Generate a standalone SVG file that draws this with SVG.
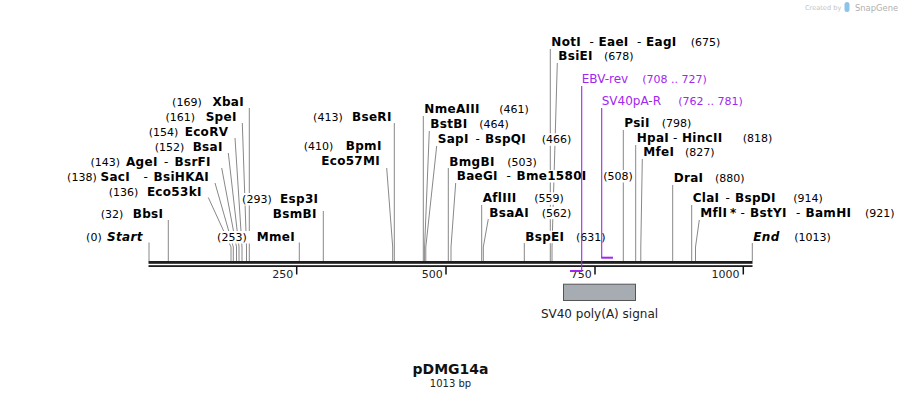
<svg xmlns="http://www.w3.org/2000/svg" width="902" height="400" viewBox="0 0 902 400">
<style>
text{font-family:"DejaVu Sans",Verdana,sans-serif;fill:#000}
.n{font-size:12px;font-weight:bold;letter-spacing:0.3px}
.i{font-style:italic}
.h{font-size:12px}
.p{font-size:11px}
.e{text-anchor:end}
.bg{fill:#fff}
.cut{stroke:#888;stroke-width:1;fill:none}
.prt{fill:#a126f0;font-size:12px}
.prn{fill:#a126f0;font-size:11px}
.prl{stroke:#a126f0;stroke-width:1.1;fill:none}
.prb{fill:#a126f0}
.tk{stroke:#111;stroke-width:1.5}
.tkl{font-size:11px;fill:#222;text-anchor:end}
</style>
<rect width="902" height="400" fill="#fff"/>
<g id="logo">
<text x="805" y="10" style="font-size:6.6px;fill:#c4c4c4">Created by</text>
<rect x="844.5" y="2" width="5" height="10" rx="2.5" fill="#8cc4e8"/>
<text x="855" y="10.5" style="font-size:8.4px;fill:#b0b0b0">SnapGene</text>
</g>
<g id="backbone">
<rect x="148.5" y="261" width="604" height="2.8" fill="#1e1e1e"/>
<rect x="148.5" y="265.2" width="604" height="1.8" fill="#1e1e1e"/>
</g>
<g id="ticks">
<line class="tk" x1="296.7" y1="266" x2="296.7" y2="274.5"/><text class="tkl" x="293.3" y="277.5">250</text>
<line class="tk" x1="446" y1="266" x2="446" y2="274.5"/><text class="tkl" x="442.8" y="277.5">500</text>
<line class="tk" x1="595" y1="266" x2="595" y2="274.5"/><text class="tkl" x="591.7" y="277.5">750</text>
<line class="tk" x1="743.3" y1="266" x2="743.3" y2="274.5"/><text class="tkl" x="739.5" y="277.5">1000</text>
</g>
<g id="connectors">
<path class="cut" d="M249.3,108 V261"/>
<path class="cut" d="M242.3,123 L246.5,247 V261"/>
<path class="cut" d="M235,138 L242,247 V261"/>
<path class="cut" d="M228.3,153 L239,247 V261"/>
<path class="cut" d="M221.7,168 L236.5,247 V261"/>
<path class="cut" d="M215,183 L233.3,247 V261"/>
<path class="cut" d="M208.3,197.5 L231,247 V261"/>
<path class="cut" d="M168.3,220 V261"/>
<path class="cut" d="M149,242.5 V261"/>
<path class="cut" d="M299.3,242.5 V261"/>
<path class="cut" d="M323.3,211 V261"/>
<path class="cut" d="M386.7,168 L392.7,247 V261"/>
<path class="cut" d="M394.3,123 V261"/>
<path class="cut" d="M423.3,116 V261"/>
<path class="cut" d="M429.3,131 L424.6,247 V261"/>
<path class="cut" d="M436.7,146 L425.8,247 V261"/>
<path class="cut" d="M448.3,168 V261"/>
<path class="cut" d="M455.7,183 L451,247 V261"/>
<path class="cut" d="M481.7,205 V261"/>
<path class="cut" d="M488.3,219 L483.3,247 V261"/>
<path class="cut" d="M524.3,243 V261"/>
<path class="cut" d="M550.3,49 V261"/>
<path class="cut" d="M557.3,63 L552,247 V261"/>
<path class="cut" d="M623.3,130 V261"/>
<path class="cut" d="M635.7,145 V261"/>
<path class="cut" d="M642.3,159 L640.8,247 V261"/>
<path class="cut" d="M672.7,185 V261"/>
<path class="cut" d="M691.7,205 V261"/>
<path class="cut" d="M699.3,220 L695.5,247 V261"/>
<path class="cut" d="M752.3,243 V261"/>
</g>
<g id="site-XbaI"><rect class="bg" x="172" y="96" width="73.5" height="12.5"/><text class="p e" x="201.7" y="106">(169)</text><text class="n e" x="244" y="106">XbaI</text></g>
<g id="site-SpeI"><rect class="bg" x="164" y="111" width="74.2" height="12.5"/><text class="p e" x="195" y="121">(161)</text><text class="n e" x="236.7" y="121">SpeI</text></g>
<g id="site-EcoRV"><rect class="bg" x="147" y="126" width="82.8" height="12.5"/><text class="p e" x="178.3" y="136">(154)</text><text class="n e" x="228.3" y="136">EcoRV</text></g>
<g id="site-BsaI"><rect class="bg" x="153" y="141" width="71.2" height="12.5"/><text class="p e" x="184.3" y="151">(152)</text><text class="n e" x="222.7" y="151">BsaI</text></g>
<g id="site-AgeI"><rect class="bg" x="89" y="156" width="129.2" height="12.5"/><text class="p e" x="120" y="166">(143)</text><text class="n e" x="157.7" y="166">AgeI</text><text class="h" x="164" y="166">-</text><text class="n" x="174.5" y="166">BsrFI</text></g>
<g id="site-SacI"><rect class="bg" x="65.5" y="171" width="144.5" height="12.5"/><text class="p e" x="96.7" y="181">(138)</text><text class="n e" x="130" y="181">SacI</text><text class="h" x="143.5" y="181">-</text><text class="n" x="153.5" y="181">BsiHKAI</text></g>
<g id="site-Eco53kI"><rect class="bg" x="107" y="186" width="96.2" height="12.5"/><text class="p e" x="138.3" y="196">(136)</text><text class="n e" x="201.7" y="196">Eco53kI</text></g>
<g id="site-BbsI"><rect class="bg" x="99" y="208" width="65.8" height="12.5"/><text class="p e" x="123.3" y="218">(32)</text><text class="n e" x="163.3" y="218">BbsI</text></g>
<g id="site-Start"><rect class="bg" x="84.5" y="231" width="59.7" height="12.5"/><text class="p e" x="101.7" y="241">(0)</text><text class="n i e" x="142.7" y="241">Start</text></g>
<g id="site-MmeI"><rect class="bg" x="216" y="231" width="80.5" height="12.5"/><text class="p e" x="246.7" y="241">(253)</text><text class="n e" x="295" y="241">MmeI</text></g>
<g id="site-Esp3I"><rect class="bg" x="240.5" y="193" width="79.3" height="12.5"/><rect class="bg" x="272.5" y="208" width="45.7" height="12.5"/><text class="p e" x="271.7" y="203">(293)</text><text class="n e" x="318.3" y="203">Esp3I</text><text class="n e" x="316.7" y="218">BsmBI</text></g>
<g id="site-BseRI"><rect class="bg" x="311.5" y="111" width="81.7" height="12.5"/><text class="p e" x="342.7" y="121">(413)</text><text class="n e" x="391.7" y="121">BseRI</text></g>
<g id="site-BpmI"><rect class="bg" x="302" y="140" width="81.2" height="12.5"/><rect class="bg" x="321.8" y="155" width="59.7" height="12.5"/><text class="p e" x="333.3" y="150">(410)</text><text class="n e" x="381.7" y="150">BpmI</text><text class="n e" x="380" y="165">Eco57MI</text></g>
<g id="site-NmeAIII"><rect class="bg" x="423.8" y="103.3" width="106.2" height="12.5"/><text class="n" x="424.3" y="113.3">NmeAIII</text><text class="p" x="499.3" y="113.3">(461)</text></g>
<g id="site-BstBI"><rect class="bg" x="429.8" y="118.3" width="80.7" height="12.5"/><text class="n" x="430.3" y="128.3">BstBI</text><text class="p" x="479.3" y="128.3">(464)</text></g>
<g id="site-SapI"><rect class="bg" x="437.2" y="133.3" width="135.8" height="12.5"/><text class="n" x="437.7" y="143.3">SapI</text><text class="h" x="475.5" y="143.3">-</text><text class="n" x="485" y="143.3">BspQI</text><text class="p" x="541.7" y="143.3">(466)</text></g>
<g id="site-BmgBI"><rect class="bg" x="448.8" y="155.5" width="89.7" height="12.5"/><text class="n" x="449.3" y="165.5">BmgBI</text><text class="p" x="507.3" y="165.5">(503)</text></g>
<g id="site-BaeGI"><rect class="bg" x="456.2" y="170" width="178.3" height="12.5"/><text class="n" x="456.7" y="180">BaeGI</text><text class="h" x="506.5" y="180">-</text><text class="n" x="516.5" y="180">Bme1580I</text><text class="p" x="603.3" y="180">(508)</text></g>
<g id="site-AflIII"><rect class="bg" x="482.2" y="192.3" width="83.3" height="12.5"/><text class="n" x="482.7" y="202.3">AflIII</text><text class="p" x="534.3" y="202.3">(559)</text></g>
<g id="site-BsaAI"><rect class="bg" x="488.8" y="206.7" width="84.2" height="12.5"/><text class="n" x="489.3" y="216.7">BsaAI</text><text class="p" x="541.7" y="216.7">(562)</text></g>
<g id="site-BspEI"><rect class="bg" x="524.8" y="230.7" width="82.2" height="12.5"/><text class="n" x="525.3" y="240.7">BspEI</text><text class="p" x="576" y="240.7">(631)</text></g>
<g id="site-NotI"><rect class="bg" x="550.8" y="36" width="171.2" height="12.5"/><text class="n" x="551.3" y="46">NotI</text><text class="h" x="589.5" y="46">-</text><text class="n" x="598.5" y="46">EaeI</text><text class="h" x="637" y="46">-</text><text class="n" x="646" y="46">EagI</text><text class="p" x="690.7" y="46">(675)</text></g>
<g id="site-BsiEI"><rect class="bg" x="557.8" y="50" width="77.2" height="12.5"/><text class="n" x="558.3" y="60">BsiEI</text><text class="p" x="604" y="60">(678)</text></g>
<g id="site-PsiI"><rect class="bg" x="623.8" y="117.3" width="69.2" height="12.5"/><text class="n" x="624.3" y="127.3">PsiI</text><text class="p" x="661.7" y="127.3">(798)</text></g>
<g id="site-HpaI"><rect class="bg" x="636.2" y="132.3" width="137.8" height="12.5"/><text class="n" x="636.7" y="142.3">HpaI</text><text class="h" x="673" y="142.3">-</text><text class="n" x="682" y="142.3">HincII</text><text class="p" x="742.7" y="142.3">(818)</text></g>
<g id="site-MfeI"><rect class="bg" x="642.8" y="146" width="73.2" height="12.5"/><text class="n" x="643.3" y="156">MfeI</text><text class="p" x="685" y="156">(827)</text></g>
<g id="site-DraI"><rect class="bg" x="673.2" y="172.3" width="72.8" height="12.5"/><text class="n" x="673.7" y="182.3">DraI</text><text class="p" x="715" y="182.3">(880)</text></g>
<g id="site-ClaI"><rect class="bg" x="692.2" y="192.3" width="132.3" height="12.5"/><text class="n" x="692.7" y="202.3">ClaI</text><text class="h" x="725.5" y="202.3">-</text><text class="n" x="735" y="202.3">BspDI</text><text class="p" x="793.3" y="202.3">(914)</text></g>
<g id="site-MflI"><rect class="bg" x="699.8" y="207.3" width="196.2" height="12.5"/><text class="n" x="700.3" y="217.3">MflI</text><text class="n" x="730" y="217.3">*</text><text class="h" x="740.5" y="217.3">-</text><text class="n" x="750" y="217.3">BstYI</text><text class="h" x="796" y="217.3">-</text><text class="n" x="805.5" y="217.3">BamHI</text><text class="p" x="865" y="217.3">(921)</text></g>
<g id="site-End"><rect class="bg" x="752.8" y="230.7" width="79.7" height="12.5"/><text class="n i" x="753.3" y="240.7">End</text><text class="p" x="794.3" y="240.7">(1013)</text></g>
<g id="primer-connectors">
<path class="prl" d="M581.7,86 V272"/>
<path class="prl" d="M601.7,108 V257.7"/>
</g>
<g id="primer-EBV-rev">
<rect class="prb" x="570" y="270" width="12.2" height="2"/>
<text class="prt" x="581.7" y="83.3">EBV-rev</text><text class="prn" x="642.3" y="83.3">(708 .. 727)</text>
</g>
<g id="primer-SV40pA-R">
<rect class="prb" x="601.2" y="256.7" width="11.8" height="2"/>
<text class="prt" x="601.7" y="105">SV40pA-R</text><text class="prn" x="678.3" y="105">(762 .. 781)</text>
</g>
<g id="feature-SV40-polyA">
<rect x="563.5" y="284.2" width="72" height="16.3" fill="#a7acb3" stroke="#555" stroke-width="1"/>
<text x="599.5" y="317.5" style="font-size:12px;fill:#222;text-anchor:middle">SV40 poly(A) signal</text>
</g>
<g id="title">
<text x="450.5" y="374" style="font-size:14px;font-weight:bold;fill:#111;text-anchor:middle">pDMG14a</text>
<text x="450.5" y="387" style="font-size:10px;fill:#222;text-anchor:middle">1013 bp</text>
</g>
</svg>
